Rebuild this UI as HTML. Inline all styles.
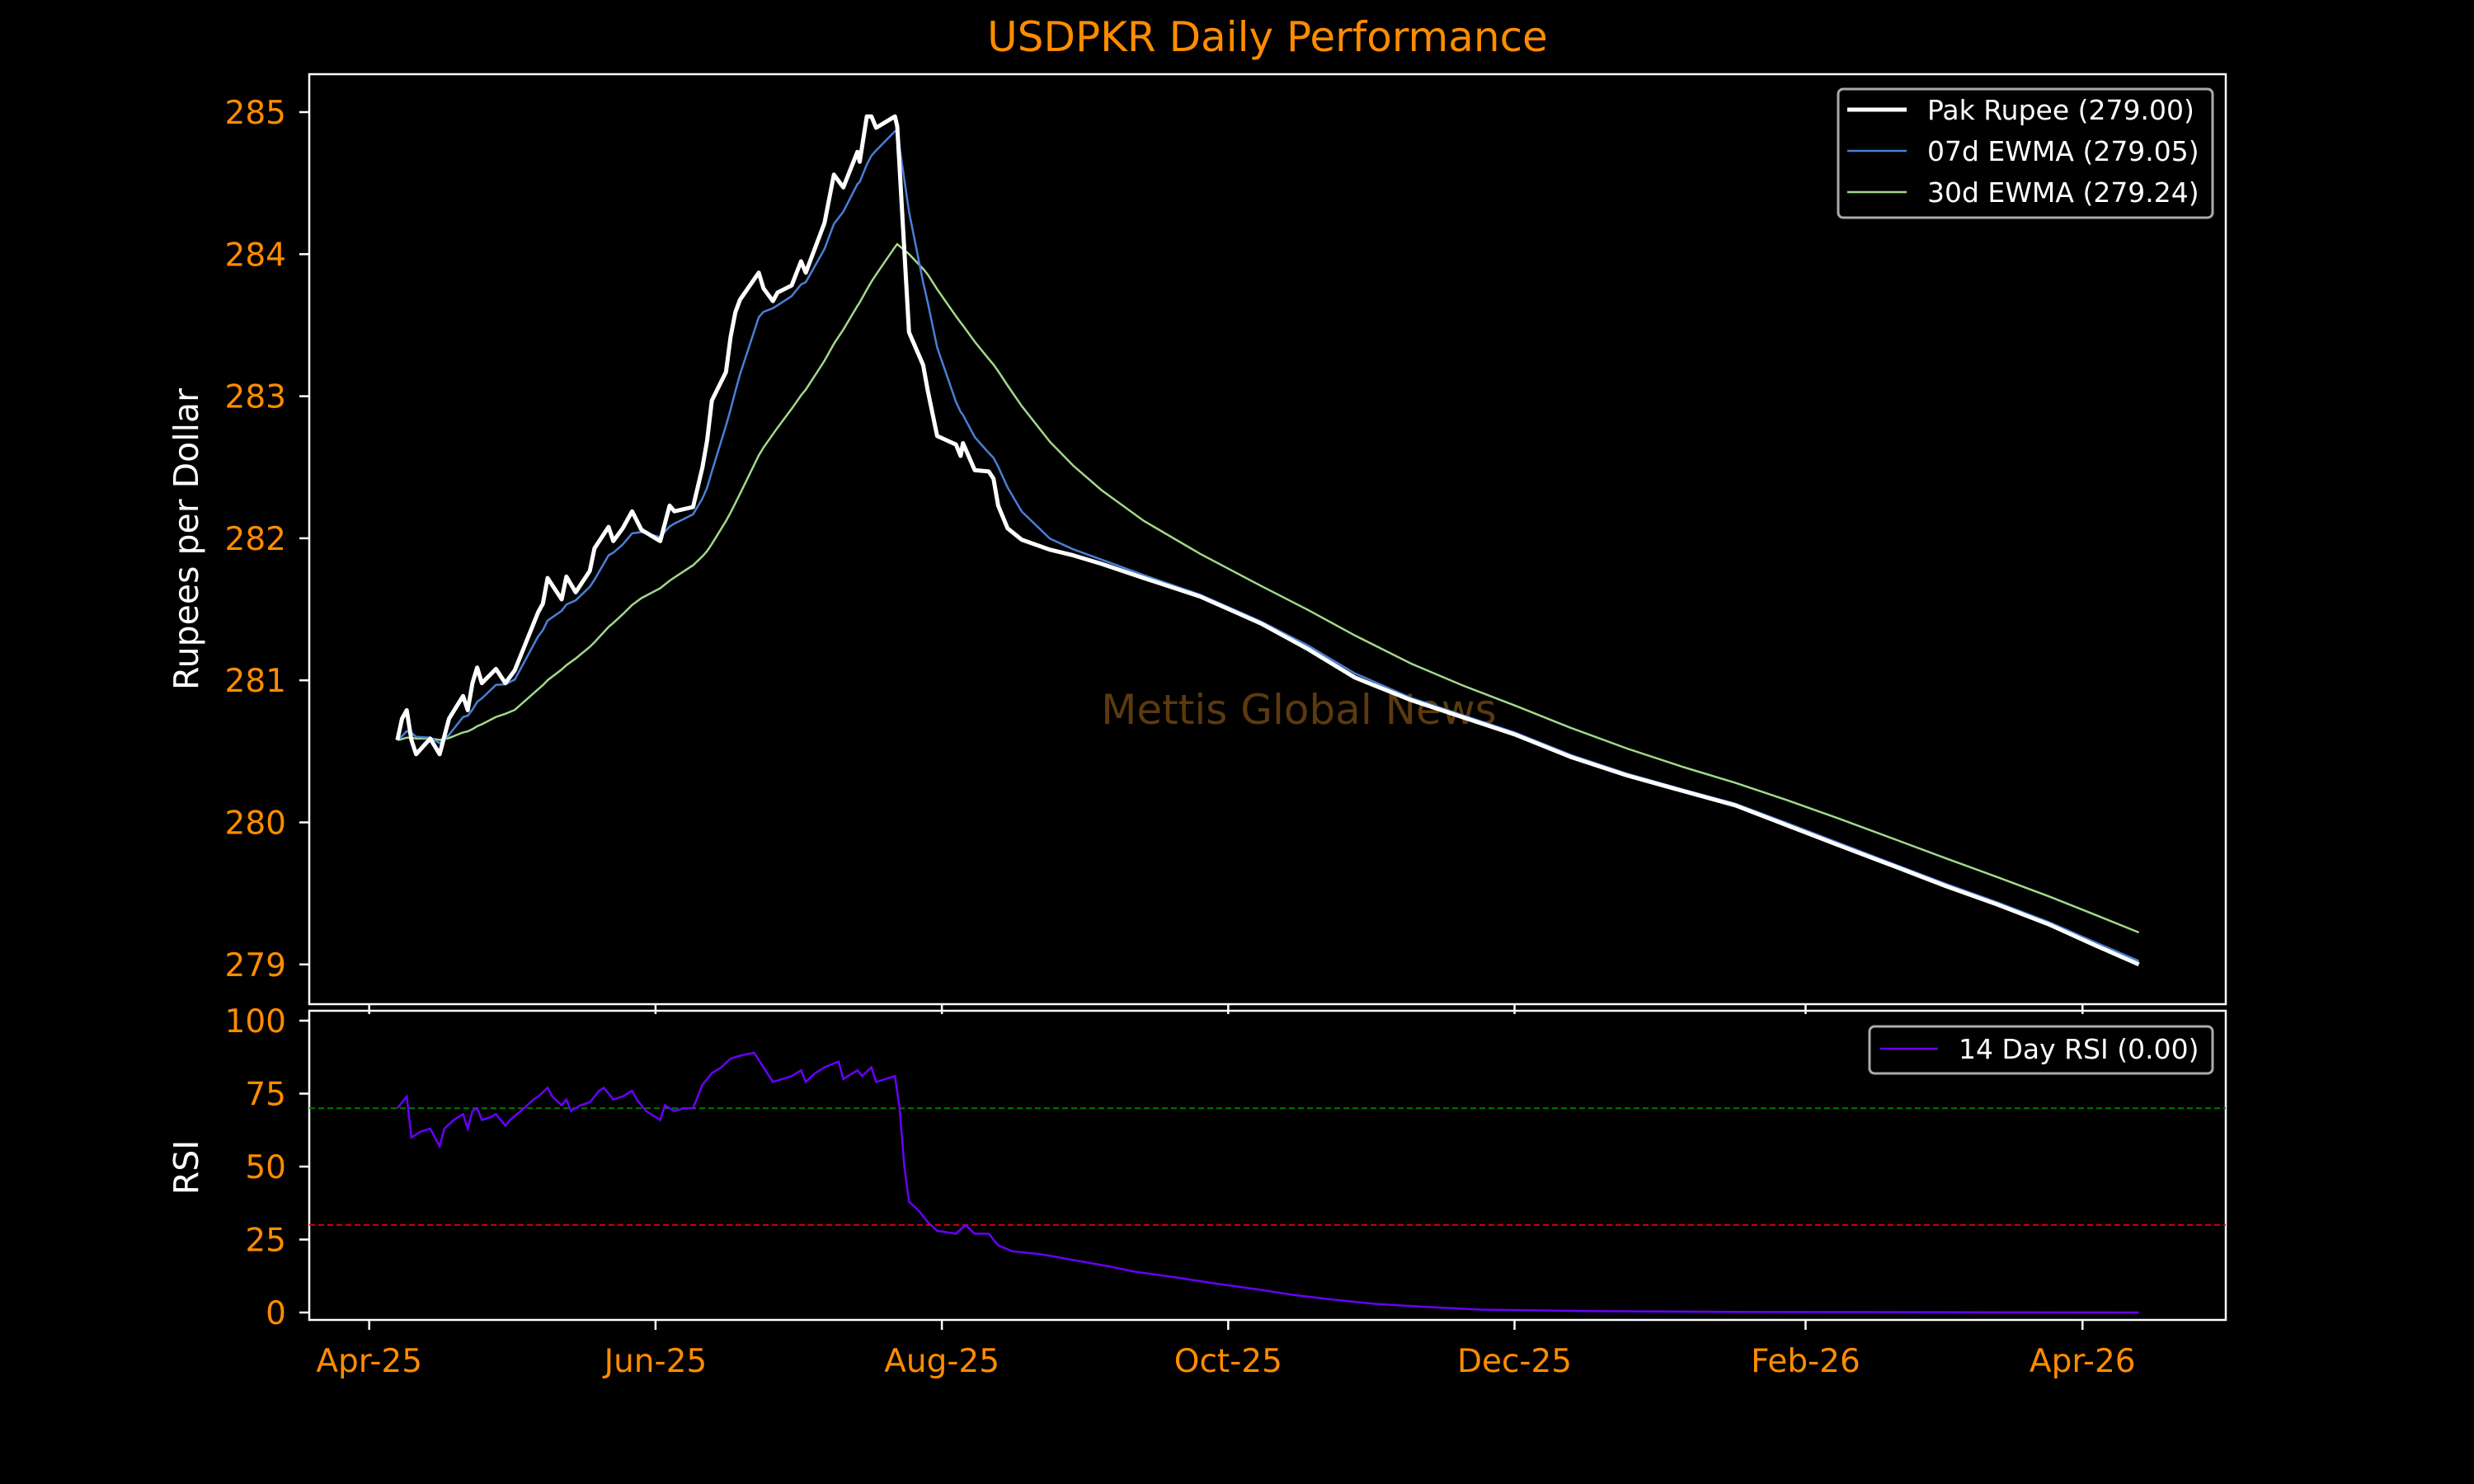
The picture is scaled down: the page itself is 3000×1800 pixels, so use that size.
<!DOCTYPE html>
<html><head><meta charset="utf-8"><style>
html,body{margin:0;padding:0;background:#000;}
svg{display:block;font-family:"DejaVu Sans","Liberation Sans",sans-serif;}
</style></head><body>
<svg id="chart" width="3000" height="1800" viewBox="0 0 3000 1800" xmlns="http://www.w3.org/2000/svg">
<rect width="3000" height="1800" fill="#000"/>
<text x="1537" y="62" fill="#ff8c00" font-size="50" text-anchor="middle">USDPKR Daily Performance</text>
<text x="1575" y="878" fill="#5c3a0e" font-size="50" text-anchor="middle">Mettis Global News</text>
<g id="main"></g>
<g id="rsi"></g>
<text transform="translate(240,654) rotate(-90)" fill="#fff" font-size="41" text-anchor="middle">Rupees per Dollar</text>
<text transform="translate(240,1416) rotate(-90)" fill="#fff" font-size="41" text-anchor="middle">RSI</text>
<g>
<rect x="2229" y="108" width="454" height="156" rx="6" fill="#000" stroke="#aaa" stroke-width="3"/>
<line x1="2240" y1="133" x2="2312" y2="133" stroke="#fff" stroke-width="5"/>
<line x1="2240" y1="183" x2="2312" y2="183" stroke="#4a7fd6" stroke-width="2.5"/>
<line x1="2240" y1="233" x2="2312" y2="233" stroke="#a4d88a" stroke-width="2.5"/>
<text x="2337" y="145" fill="#fff" font-size="33">Pak Rupee (279.00)</text>
<text x="2337" y="195" fill="#fff" font-size="33">07d EWMA (279.05)</text>
<text x="2337" y="245" fill="#fff" font-size="33">30d EWMA (279.24)</text>
</g>
<g>
<rect x="2267" y="1245" width="416" height="57" rx="6" fill="#000" stroke="#aaa" stroke-width="3"/>
<line x1="2280" y1="1272" x2="2350" y2="1272" stroke="#6a00ff" stroke-width="2.5"/>
<text x="2375" y="1284" fill="#fff" font-size="33">14 Day RSI (0.00)</text>
</g>
</svg>
<script>
// Data (day offsets from 2025-04-01)
const priceDays = [6,7,8,9,10,13,15,17,20,21,22,23,24,27,29,31,36,37,38,41,42,44,47,48,51,52,54,56,58,62,64,65,69,71,72,73,76,77,78,79,83,84,86,87,90,92,93,97,99,101,104,104.5,106,107,108,112,112.5,115,118,119,121,125,126,126.5,129,132,133,134,136,139,145,150,156,165,177,190,200,210,222,233,244,256,268,280,291,302,313,325,336,347,358,368,377];
const priceVals = [280.58,280.73,280.79,280.58,280.48,280.59,280.48,280.73,280.89,280.79,280.98,281.09,280.98,281.08,280.98,281.07,281.48,281.54,281.72,281.57,281.73,281.62,281.77,281.93,282.08,281.98,282.07,282.19,282.06,281.98,282.23,282.19,282.22,282.50,282.69,282.97,283.17,283.42,283.59,283.68,283.87,283.76,283.67,283.73,283.78,283.95,283.87,284.22,284.56,284.47,284.72,284.65,284.97,284.97,284.89,284.97,284.90,283.45,283.22,283.04,282.72,282.66,282.58,282.67,282.48,282.47,282.42,282.23,282.07,281.99,281.92,281.88,281.82,281.72,281.59,281.40,281.22,281.02,280.86,280.74,280.62,280.46,280.33,280.22,280.12,279.98,279.84,279.69,279.55,279.42,279.28,279.13,279.00];
const rsiDays = [6,7,8,9,11,13,15,16,18,20,21,22,23,24,26,27,29,30,33,35,36,38,39,41,42,43,45,47,49,50,52,54,56,57,59,61,62,63,65,67,69,71,73,75,77,79,82,84,86,88,90,92,93,95,97,100,101,103,104,105,107,108,110,112,113,114,115,117,119,121,125,127,129,132,134,137,143,150,157,163,172,180,189,197,205,214,224,237,258,291,377];
const rsiVals = [70,72,74,60,62,63,57,63,66,68,63,69,70,66,67,68,64,66,70,73,74,77,74,71,73,69,71,72,76,77,73,74,76,73,69,67,66,71,69,70,70,78,82,84,87,88,89,84,79,80,81,83,79,82,84,86,80,82,83,81,84,79,80,81,70,50,38,35,31,28,27,30,27,27,23,21,20,18,16,14,12,10,8,6,4.5,3,2,1,0.5,0.2,0];
const xTickDays = [0,61,122,183,244,306,365];
const xTickLabels = ["Apr-25","Jun-25","Aug-25","Oct-25","Dec-25","Feb-26","Apr-26"];
const yTicks = [279,280,281,282,283,284,285];
const rsiTicks = [0,25,50,75,100];

const NS="http://www.w3.org/2000/svg";
const L=375,R=2699,MT=90,MB=1218,RT=1226,RB=1601;
const xs=d=>447.7+d*5.692;
const ys=v=>136+(285-v)*172.3;
const yr=v=>1592-v*3.54;
function mk(tag,attrs,parent){const e=document.createElementNS(NS,tag);for(const k in attrs)e.setAttribute(k,attrs[k]);parent.appendChild(e);return e;}
function ewma(days,vals,span){const a=2/(span+1);const out=[vals[0]];for(let i=1;i<vals.length;i++){const dt=(days[i]-days[i-1])*5/7;const ae=1-Math.pow(1-a,Math.max(dt,0.3));out.push(out[i-1]+ae*(vals[i]-out[i-1]));}return out;}
function pts(days,vals,fy){return days.map((d,i)=>xs(d).toFixed(1)+","+fy(vals[i]).toFixed(1)).join(" ");}

const main=document.getElementById('main'), rsi=document.getElementById('rsi');
let f=mk('rect',{x:L,y:MT,width:R-L,height:MB-MT,fill:'none',stroke:'#fff','stroke-width':2.5},main);


f=mk('rect',{x:L,y:RT,width:R-L,height:RB-RT,fill:'none',stroke:'#fff','stroke-width':2.5},rsi);


yTicks.forEach(v=>{const y=ys(v);mk('line',{x1:L-12,x2:L,y1:y,y2:y,stroke:'#fff','stroke-width':2.5},main);
 const t=mk('text',{x:L-28,y:y+14,fill:'#ff8c00','font-size':39,'text-anchor':'end'},main);t.textContent=v;
 
 });
rsiTicks.forEach(v=>{const y=yr(v);mk('line',{x1:L-12,x2:L,y1:y,y2:y,stroke:'#fff','stroke-width':2.5},rsi);
 const t=mk('text',{x:L-28,y:y+14,fill:'#ff8c00','font-size':39,'text-anchor':'end'},rsi);t.textContent=v;
 
 });
xTickDays.forEach((d,i)=>{const x=xs(d);
 mk('line',{x1:x,x2:x,y1:MB,y2:MB+12,stroke:'#fff','stroke-width':2.5},main);
 mk('line',{x1:x,x2:x,y1:RB,y2:RB+12,stroke:'#fff','stroke-width':2.5},rsi);
 const t=mk('text',{x:x,y:1664,fill:'#ff8c00','font-size':39,'text-anchor':'middle'},rsi);t.textContent=xTickLabels[i];
 
 });
let l=mk('line',{x1:L,x2:R,y1:yr(70),y2:yr(70),stroke:'#007a00','stroke-width':2,'stroke-dasharray':'7,4'},rsi);


l=mk('line',{x1:L,x2:R,y1:yr(30),y2:yr(30),stroke:'#e00000','stroke-width':2,'stroke-dasharray':'7,4'},rsi);


const e30=ewma(priceDays,priceVals,30), e7=ewma(priceDays,priceVals,7);
let p=mk('polyline',{points:pts(priceDays,e30,ys),fill:'none',stroke:'#a4d88a','stroke-width':2.5},main);


p=mk('polyline',{points:pts(priceDays,e7,ys),fill:'none',stroke:'#4a7fd6','stroke-width':2.5},main);


p=mk('polyline',{points:pts(priceDays,priceVals,ys),fill:'none',stroke:'#fff','stroke-width':5,'stroke-linejoin':'round'},main);


p=mk('polyline',{points:pts(rsiDays,rsiVals,yr),fill:'none',stroke:'#6a00ff','stroke-width':2.5},rsi);


</script>
</body></html>
